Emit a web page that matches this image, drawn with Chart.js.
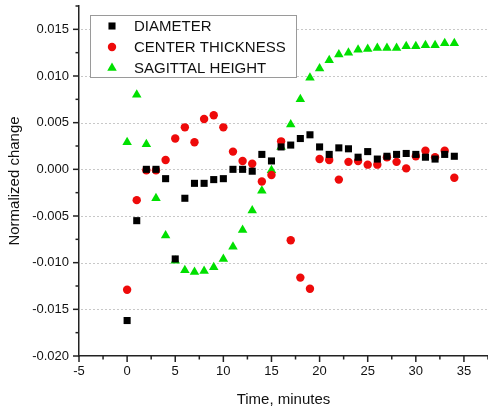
<!DOCTYPE html>
<html lang="en">
<head>
    <meta charset="UTF-8">
    <title>Normalized change vs time</title>
    <script src="https://cdn.jsdelivr.net/npm/chart.js"></script>
    <style>
        body { margin: 0; padding: 0; background: #fff; }
        #wrap { width: 488px; height: 415px; }
    </style>
</head>
<body>
    <div id="wrap"><canvas id="chart" width="488" height="415"></canvas></div>
    <script>
        // time in minutes
        const minutes = [0, 1, 2, 3, 4, 5, 6, 7, 8, 9, 10, 11, 12, 13, 14, 15, 16, 17,
            18, 19, 20, 21, 22, 23, 24, 25, 26, 27, 28, 29, 30, 31, 32, 33, 34];
        const diameter = [-0.0162, -0.0055, 0.0000, 0.0000, -0.0010, -0.0096, -0.0031, -0.0015,
            -0.0015, -0.0011, -0.0010, 0.0000, 0.0000, -0.0002, 0.0016, 0.0009, 0.0024, 0.0026,
            0.0033, 0.0037, 0.0024, 0.0016, 0.0023, 0.0022, 0.0013, 0.0019, 0.0011, 0.0014,
            0.0016, 0.0017, 0.0016, 0.0013, 0.0011, 0.0016, 0.0014];
        const centerThickness = [-0.0129, -0.0033, -0.0001, -0.0001, 0.0010, 0.0033, 0.0045, 0.0029,
            0.0054, 0.0058, 0.0045, 0.0019, 0.0009, 0.0006, -0.0013, -0.0006, 0.0030, -0.0076,
            -0.0116, -0.0128, 0.0011, 0.0010, -0.0011, 0.0008, 0.0009, 0.0005, 0.0005, 0.0013,
            0.0008, 0.0001, 0.0014, 0.0020, 0.0013, 0.0020, -0.0009];
        const sagittalHeight = [0.0029, 0.0080, 0.0027, -0.0031, -0.0071, -0.0098, -0.0108, -0.0110,
            -0.0109, -0.0105, -0.0096, -0.0083, -0.0065, -0.0044, -0.0023, -0.0001, 0.0024, 0.0048,
            0.0075, 0.0098, 0.0108, 0.0117, 0.0123, 0.0125, 0.0128, 0.0129, 0.0130, 0.0130,
            0.0130, 0.0132, 0.0132, 0.0133, 0.0133, 0.0135, 0.0135];
        const seriesNames = ['DIAMETER', 'CENTER THICKNESS', 'SAGITTAL HEIGHT'];
        const xTicks = [-5, 0, 5, 10, 15, 20, 25, 30, 35];
        const yTicks = [-0.020, -0.015, -0.010, -0.005, 0.000, 0.005, 0.010, 0.015];

        const FONT = "'Liberation Sans', Arial, sans-serif";
        const pts = (ys) => minutes.map((t, i) => ({ x: t, y: ys[i] }));
        const isMajor = (v, step) => Math.abs(v / step - Math.round(v / step)) < 1e-6;

        // dotted horizontal grid lines at the labelled y values
        const gridPlugin = {
            id: 'dottedGrid',
            beforeDatasetsDraw(chart) {
                const { ctx, chartArea, scales } = chart;
                ctx.save();
                ctx.strokeStyle = '#c8c8c8';
                ctx.lineWidth = 1;
                ctx.setLineDash([2, 2]);
                yTicks.forEach(v => {
                    if (v <= scales.y.min) return;
                    const y = Math.round(scales.y.getPixelForValue(v)) + 0.5;
                    ctx.beginPath();
                    ctx.moveTo(chartArea.left + 2, y);
                    ctx.lineTo(chartArea.right, y);
                    ctx.stroke();
                });
                ctx.restore();
            }
        };

        // outward major/minor tick marks on both axes
        const tickPlugin = {
            id: 'tickMarks',
            afterDraw(chart) {
                const { ctx, chartArea, scales } = chart;
                ctx.save();
                ctx.strokeStyle = '#222';
                ctx.lineWidth = 1.5;
                for (let v = scales.y.min; v <= scales.y.max + 1e-9; v += 0.0025) {
                    const y = scales.y.getPixelForValue(v);
                    const len = isMajor(v, 0.005) ? 6 : 3.5;
                    ctx.beginPath();
                    ctx.moveTo(chartArea.left, y);
                    ctx.lineTo(chartArea.left - len, y);
                    ctx.stroke();
                }
                for (let v = scales.x.min; v <= scales.x.max + 1e-9; v += 2.5) {
                    const x = scales.x.getPixelForValue(v);
                    const len = isMajor(v, 5) ? 6 : 3.5;
                    ctx.beginPath();
                    ctx.moveTo(x, chartArea.bottom);
                    ctx.lineTo(x, chartArea.bottom + len);
                    ctx.stroke();
                }
                ctx.restore();
            }
        };

        // boxed legend inside the plot, top left
        const legendPlugin = {
            id: 'boxLegend',
            afterDraw(chart) {
                const { ctx } = chart;
                const box = { x: 90.5, y: 15.5, w: 206, h: 62 };
                ctx.save();
                ctx.fillStyle = '#fff';
                ctx.fillRect(box.x, box.y, box.w, box.h);
                ctx.strokeStyle = '#9a9a9a';
                ctx.lineWidth = 1;
                ctx.strokeRect(box.x, box.y, box.w, box.h);
                ctx.font = '15px ' + FONT;
                ctx.textBaseline = 'middle';
                chart.data.datasets.forEach((ds, i) => {
                    const cy = 26 + i * 21;
                    ctx.fillStyle = ds.backgroundColor;
                    ctx.strokeStyle = ds.borderColor;
                    Chart.helpers.drawPoint(ctx, {
                        pointStyle: ds.pointStyle, radius: ds.pointRadius, rotation: 0, borderWidth: 0
                    }, 112, cy);
                    ctx.fillStyle = '#111';
                    ctx.fillText(ds.label, 134, cy + 1);
                });
                ctx.restore();
            }
        };

        new Chart(document.getElementById('chart'), {
            type: 'scatter',
            data: {
                datasets: [
                    { label: seriesNames[0], data: pts(diameter), pointStyle: 'rect', pointRadius: 5,
                      backgroundColor: '#000', borderColor: '#000', borderWidth: 0 },
                    { label: seriesNames[1], data: pts(centerThickness), pointStyle: 'circle', pointRadius: 4.2,
                      backgroundColor: '#ee0a0a', borderColor: '#ee0a0a', borderWidth: 0 },
                    { label: seriesNames[2], data: pts(sagittalHeight), pointStyle: 'triangle', pointRadius: 5.5,
                      backgroundColor: '#00e000', borderColor: '#00e000', borderWidth: 0 }
                ]
            },
            options: {
                responsive: false,
                animation: false,
                layout: { autoPadding: false, padding: { top: 6, right: 0, left: 0, bottom: 0 } },
                plugins: {
                    legend: { display: false },
                    tooltip: { enabled: false }
                },
                scales: {
                    x: {
                        type: 'linear',
                        min: -5,
                        max: 37.5,
                        afterFit: s => { s.height = 59; s.paddingLeft = 0; s.paddingRight = 0; },
                        afterBuildTicks: s => { s.ticks = xTicks.map(v => ({ value: v })); },
                        grid: { display: false, drawTicks: false },
                        border: { display: true, color: '#222', width: 1.5 },
                        ticks: {
                            padding: 8,
                            color: '#111',
                            font: { family: FONT, size: 13 },
                            callback: v => String(v)
                        },
                        title: {
                            display: true,
                            text: 'Time, minutes',
                            color: '#111',
                            font: { family: FONT, size: 15 },
                            padding: { top: 0, bottom: 6 }
                        }
                    },
                    y: {
                        type: 'linear',
                        min: -0.020,
                        max: 0.0175,
                        afterFit: s => { s.width = 79; s.paddingTop = 0; s.paddingBottom = 0; },
                        afterBuildTicks: s => { s.ticks = yTicks.map(v => ({ value: v })); },
                        grid: { display: false, drawTicks: false },
                        border: { display: true, color: '#222', width: 1.5 },
                        ticks: {
                            padding: 10,
                            color: '#111',
                            font: { family: FONT, size: 13 },
                            callback: v => v.toFixed(3)
                        },
                        title: {
                            display: true,
                            text: 'Normalized change',
                            color: '#111',
                            font: { family: FONT, size: 15 },
                            padding: { top: 6, bottom: 0 }
                        }
                    }
                }
            },
            plugins: [gridPlugin, tickPlugin, legendPlugin]
        });
    </script>
</body>
</html>
